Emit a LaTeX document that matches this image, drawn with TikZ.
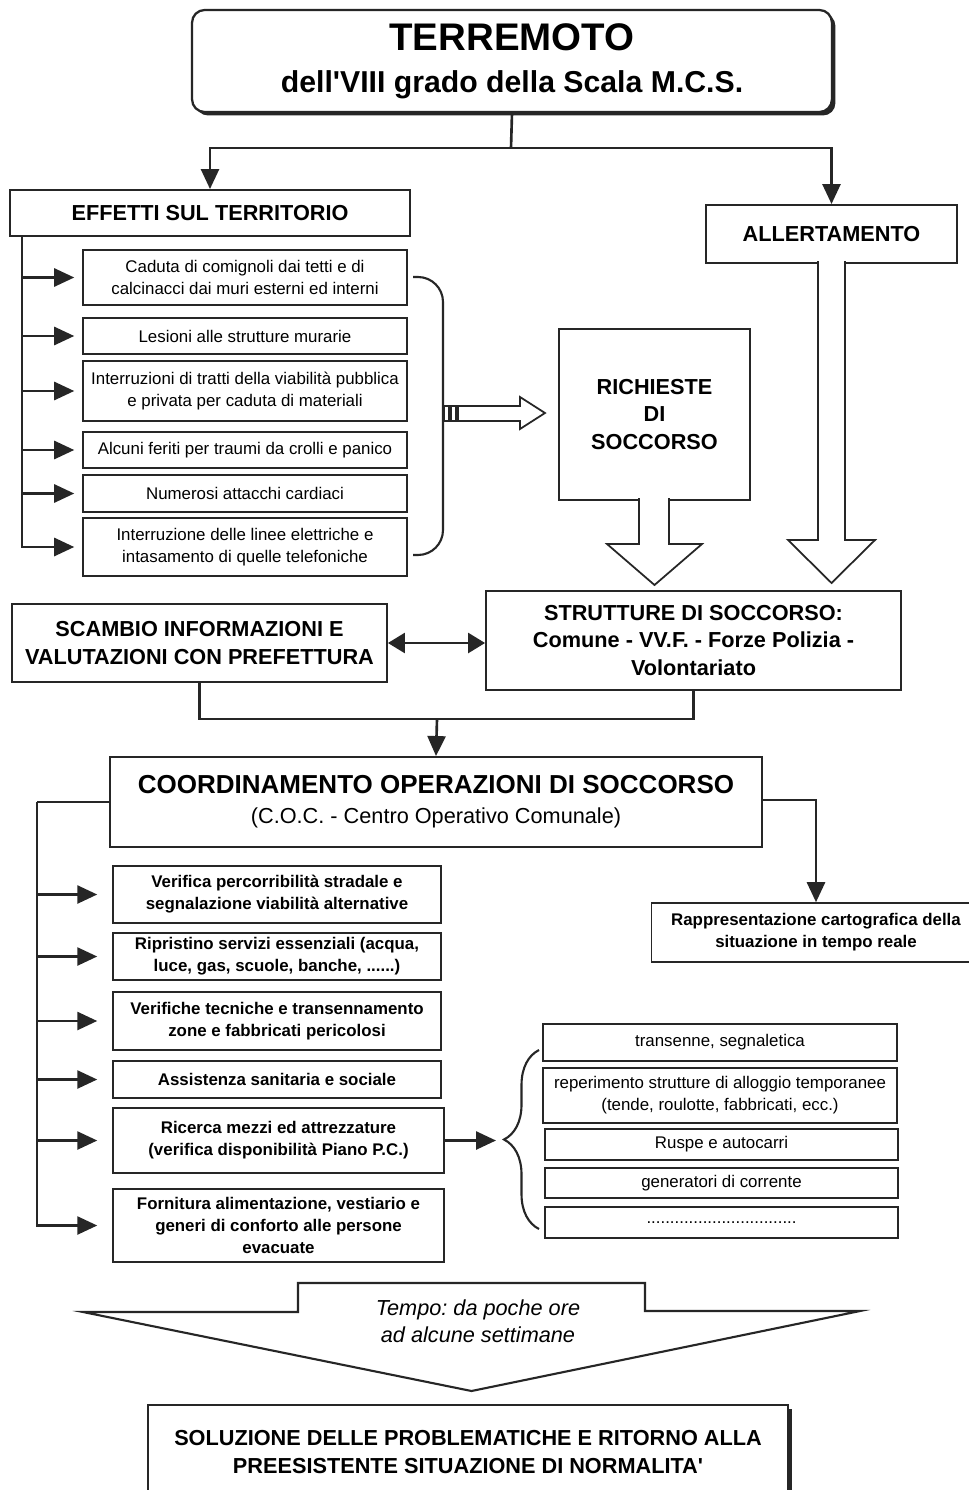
\documentclass[tikz,border=0pt]{standalone}
\usepackage{fontspec}
\setmainfont{Liberation Sans}
\usetikzlibrary{arrows.meta,shadows,decorations.pathreplacing}
\frenchspacing

\tikzset{
  box/.style={draw=black!85, line width=1.1pt, fill=white, align=center, inner sep=0pt},
  titolo/.style={box, font=\fontsize{12.35}{15.8}\selectfont\bfseries},
  voce/.style={box, line width=0.9pt, font=\fontsize{9.6}{12.5}\selectfont},
  voceb/.style={voce, font=\fontsize{9.6}{12.5}\selectfont\bfseries},
  linea/.style={draw=black!85, line width=1.5pt},
  freccia/.style={linea, -{Triangle[length=0.4cm,width=0.36cm]}},
  cava/.style={draw=black!85, line width=1pt, fill=white},
  ombra/.style={drop shadow={shadow xshift=0.07cm, shadow yshift=-0.07cm, fill=black!85, opacity=1}}
}

\begin{document}
\begin{tikzpicture}[x=0.02cm, y=-0.02cm]
\useasboundingbox[fill=white] (0,0) rectangle (968,1490);

% Terremoto
\node[box, rounded corners=0.25cm, line width=1.3pt, minimum width=12.8cm, minimum height=2.04cm, ombra]
  (terremoto) at (512,61) {{\fontsize{21.9}{24}\selectfont\bfseries TERREMOTO}\\[10pt]
  {\fontsize{17.2}{20}\selectfont\bfseries dell\textquotesingle VIII grado della Scala M.C.S.}};

% Effetti e allertamento
\node[titolo, minimum width=8cm, minimum height=0.92cm] (effetti) at (210,213) {EFFETTI SUL TERRITORIO};
\node[titolo, minimum width=5.02cm, minimum height=1.16cm] (allerta) at (831.5,234) {ALLERTAMENTO};
\coordinate (bivio) at (511,148);
\draw[linea] (terremoto.south) -- (bivio);
\draw[freccia] (bivio) -| (effetti.north);
\draw[freccia] (bivio) -| (allerta.north);

% Effetti sul territorio
\node[voce, minimum width=6.48cm, minimum height=1.1cm] (e1) at (245,277.5) {Caduta di comignoli dai tetti e di\\calcinacci dai muri esterni ed interni};
\node[voce, minimum width=6.48cm, minimum height=0.72cm] (e2) at (245,336) {Lesioni alle strutture murarie};
\node[voce, minimum width=6.48cm, minimum height=1.2cm] (e3) at (245,391) {Interruzioni di tratti della viabilità pubblica\\e privata per caduta di materiali};
\node[voce, minimum width=6.48cm, minimum height=0.72cm] (e4) at (245,450) {Alcuni feriti per traumi da crolli e panico};
\node[voce, minimum width=6.48cm, minimum height=0.74cm] (e5) at (245,493.5) {Numerosi attacchi cardiaci};
\node[voce, minimum width=6.48cm, minimum height=1.16cm] (e6) at (245,547) {Interruzione delle linee elettriche e\\intasamento di quelle telefoniche};
\coordinate (etronco) at (22,236);
\foreach \n in {e1,e2,e3,e4,e5,e6}
  \draw[freccia, shorten >=0.16cm] (etronco) |- (\n.west);

% Parentesi e freccia cava
\draw[linea, line width=1.2pt, rounded corners=0.5cm] (413,277) -- (443,277) -- (443,555) -- (413,555);
\draw[cava] (444,406) rectangle (449,421);
\draw[cava] (451,406) rectangle (456,421);
\draw[cava] (458,406) -- (520,406) -- (520,397) -- (545,413) -- (520,429) -- (520,421) -- (458,421) -- cycle;

% Richieste di soccorso
\node[titolo, minimum width=3.82cm, minimum height=3.42cm] (richieste) at (654.5,414.5) {RICHIESTE\\DI\\SOCCORSO};
\draw[cava] (639,498) -- (639,544) -- (607,544) -- (654.5,585) -- (702,544) -- (669,544) -- (669,498);
\draw[cava] (818,261) -- (818,540) -- (788,540) -- (831.5,583) -- (875,540) -- (845,540) -- (845,261);

% Strutture e prefettura
\node[titolo, minimum width=8.3cm, minimum height=1.98cm] (strutture) at (693.5,640.5) {STRUTTURE DI SOCCORSO:\\Comune - VV.F. - Forze Polizia -\\Volontariato};
\node[titolo, minimum width=7.5cm, minimum height=1.56cm] (scambio) at (199.5,643) {SCAMBIO INFORMAZIONI E\\VALUTAZIONI CON PREFETTURA};
\draw[linea, {Triangle[length=0.34cm,width=0.4cm]}-{Triangle[length=0.34cm,width=0.4cm]}] (scambio.east) -- (scambio.east -| strutture.west);

% Coordinamento
\node[box, minimum width=13.04cm, minimum height=1.8cm] (coc) at (436,802)
  {{\fontsize{14.8}{18}\selectfont\bfseries COORDINAMENTO OPERAZIONI DI SOCCORSO}\\[5pt]
  {\fontsize{12.35}{15}\selectfont (C.O.C. - Centro Operativo Comunale)}};
\coordinate (unione) at (437,719);
\draw[linea] (scambio.south) |- (unione) -| (strutture.south);
\draw[freccia] (unione) -- (coc.north);

% Operazioni
\node[voceb, minimum width=6.56cm, minimum height=1.14cm] (o1) at (277,894.5) {Verifica percorribilità stradale e\\segnalazione viabilità alternative};
\node[voceb, minimum width=6.56cm, minimum height=0.94cm] (o2) at (277,956.5) {Ripristino servizi essenziali (acqua,\\luce, gas, scuole, banche, ......)};
\node[voceb, minimum width=6.56cm, minimum height=1.16cm] (o3) at (277,1021) {Verifiche tecniche e transennamento\\zone e fabbricati pericolosi};
\node[voceb, minimum width=6.56cm, minimum height=0.74cm] (o4) at (277,1079.5) {Assistenza sanitaria e sociale};
\node[voceb, minimum width=6.62cm, minimum height=1.3cm] (o5) at (278.5,1140.5) {Ricerca mezzi ed attrezzature\\(verifica disponibilità Piano P.C.)};
\node[voceb, minimum width=6.62cm, minimum height=1.46cm] (o6) at (278.5,1225.5) {Fornitura alimentazione, vestiario e\\generi di conforto alle persone\\evacuate};
\coordinate (otronco) at (37,802);
\draw[linea] (coc.west) -- (otronco);
\foreach \n in {o1,o2,o3,o4,o5,o6}
  \draw[freccia, shorten >=0.3cm] (otronco) |- (\n.west);

% Cartografia
\node[voceb, minimum width=6.58cm, minimum height=1.18cm] (carta) at (816,932.5) {Rappresentazione cartografica della\\situazione in tempo reale};
\coordinate (dtronco) at (816,800);
\draw[freccia] (coc.east |- dtronco) -- (dtronco) -- (carta.north);

% Mezzi
\coordinate (graffa) at (502,1141);
\draw[freccia, shorten >=0.12cm] (o5.east) -- (o5.east -| graffa);
\draw[linea, line width=1.2pt, decorate, decoration={brace, amplitude=0.7cm}] (539,1229) -- (539,1050);
\node[voce, minimum width=7.08cm, minimum height=0.74cm] (r1) at (720,1042.5) {transenne, segnaletica};
\node[voce, minimum width=7.08cm, minimum height=1.1cm] (r2) at (720,1095.5) {reperimento strutture di alloggio temporanee\\(tende, roulotte, fabbricati, ecc.)};
\node[voce, minimum width=7.06cm, minimum height=0.62cm] (r3) at (721.5,1144.5) {Ruspe e autocarri};
\node[voce, minimum width=7.06cm, minimum height=0.6cm] (r4) at (721.5,1183) {generatori di corrente};
\node[voce, minimum width=7.06cm, minimum height=0.62cm] (r5) at (721.5,1222.5) {................................};

% Tempo
\draw[cava, line width=1.2pt] (83,1312) -- (298,1312) -- (298,1283) -- (645,1283) -- (645,1311) -- (860,1311) -- (471.5,1391) -- cycle;
\node[font=\fontsize{12.35}{15.4}\selectfont\itshape, align=center] (tempo) at (478,1321) {Tempo: da poche ore\\ad alcune settimane};

% Soluzione
\node[titolo, minimum width=12.82cm, minimum height=1.88cm, ombra] (soluzione) at (468,1452)
  {SOLUZIONE DELLE PROBLEMATICHE E RITORNO ALLA\\PREESISTENTE SITUAZIONE DI NORMALITA\textquotesingle};
\end{tikzpicture}
\end{document}
